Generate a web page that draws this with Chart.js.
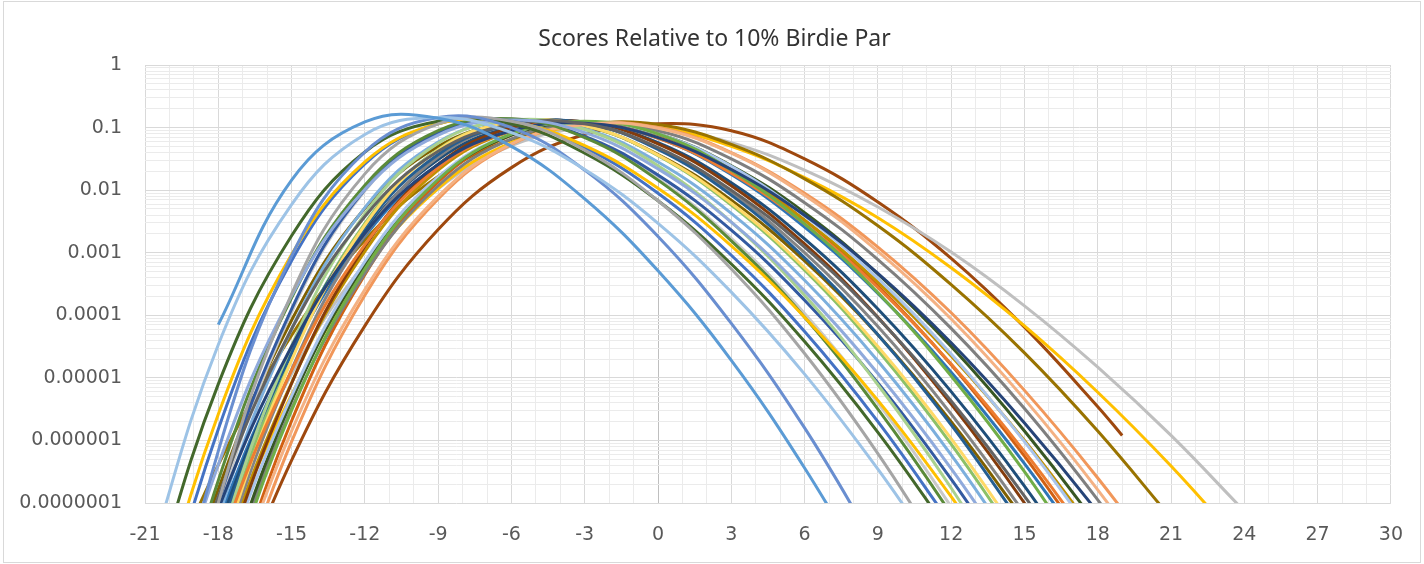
<!DOCTYPE html>
<html>
<head>
<meta charset="utf-8">
<script src="https://cdn.jsdelivr.net/npm/chart.js@4.4.1/dist/chart.umd.min.js"></script>
<style>
  html, body { margin: 0; padding: 0; background: #ffffff; }
  #wrap { position: relative; width: 1424px; height: 564px; }
  canvas { display: block; }
</style>
</head>
<body>
<div id="wrap"><canvas id="chart" width="1424" height="564"></canvas></div>
<script>
// Score (relative to 10% birdie par) at which each curve is sampled.
const scoreGrid = [-21, -18, -15, -12, -9, -6, -3, 0, 3, 6, 9, 12, 15, 18, 21, 24];

// log10 of the probability of each score, one array per player, aligned with scoreGrid.
const p01 = [null, -4.15, -1.84, -0.91, -0.85, -1.30, -2.14, -3.29, -4.72, -6.44, -8.40, null, null, null, null, null];
const p02 = [-8.11, -4.47, -2.23, -1.11, -0.84, -1.08, -1.67, -2.53, -3.63, -4.94, -6.46, -8.15, null, null, null, null];
const p03 = [-11.0, -6.17, -3.05, -1.39, -0.84, -1.00, -1.68, -2.74, -4.13, -5.80, -7.75, null, null, null, null, null];
const p04 = [-11.9, -7.00, -3.66, -1.74, -0.94, -0.90, -1.36, -2.17, -3.26, -4.61, -6.21, -8.03, null, null, null, null];
const p05 = [-8.72, -5.10, -2.73, -1.39, -0.90, -0.94, -1.41, -2.17, -3.18, -4.42, -5.87, -7.51, null, null, null, null];
const p06 = [-9.37, -5.58, -3.03, -1.55, -0.94, -0.91, -1.29, -1.97, -2.89, -4.03, -5.36, -6.90, -8.60, null, null, null];
const p07 = [-9.82, -5.82, -3.13, -1.58, -0.94, -0.90, -1.32, -2.05, -3.04, -4.26, -5.70, -7.34, null, null, null, null];
const p08 = [-10.2, -6.39, -3.69, -1.99, -1.12, -0.88, -1.08, -1.66, -2.51, -3.61, -4.93, -6.45, -8.16, null, null, null];
const p09 = [-10.84, -6.64, -3.72, -1.92, -1.05, -0.86, -1.16, -1.84, -2.81, -4.03, -5.50, -7.18, -9.07, null, null, null];
const p10 = [-10.55, -6.90, -4.22, -2.42, -1.38, -0.95, -0.94, -1.32, -2.00, -2.91, -4.04, -5.37, -6.89, -8.59, null, null];
const p11 = [-10.56, -7.10, -4.50, -2.69, -1.59, -1.05, -0.93, -1.16, -1.67, -2.40, -3.33, -4.44, -5.72, -7.15, -8.74, null];
const p12 = [null, -8.99, -5.85, -3.59, -2.10, -1.26, -0.95, -1.01, -1.41, -2.08, -2.98, -4.06, -5.34, -6.79, -8.41, null];
const p13 = [null, -8.73, -5.52, -3.26, -1.83, -1.10, -0.90, -1.10, -1.68, -2.54, -3.64, -4.97, -6.50, -8.23, null, null];
const p14 = [-11.6, -7.75, -4.88, -2.87, -1.64, -1.05, -0.92, -1.17, -1.73, -2.54, -3.56, -4.78, -6.18, -7.76, null, null];
const p15 = [-12.3, -7.75, -4.49, -2.38, -1.25, -0.88, -1.03, -1.61, -2.51, -3.68, -5.11, -6.76, -8.64, null, null, null];
const p16 = [-11.45, -7.24, -4.22, -2.28, -1.23, -0.89, -1.02, -1.55, -2.37, -3.44, -4.73, -6.23, -7.93, null, null, null];
const p17 = [-12.5, -7.99, -4.72, -2.56, -1.36, -0.91, -0.97, -1.44, -2.21, -3.24, -4.50, -5.97, -7.64, null, null, null];
const p18 = [-11.6, -7.57, -4.59, -2.59, -1.43, -0.95, -0.93, -1.35, -2.08, -3.08, -4.31, -5.75, -7.40, null, null, null];
const p19 = [-12.5, -8.08, -4.87, -2.72, -1.47, -0.95, -0.93, -1.33, -2.04, -3.00, -4.18, -5.58, -7.17, -8.94, null, null];
const p20 = [-12.6, -8.30, -5.09, -2.90, -1.59, -1.00, -0.91, -1.26, -1.93, -2.86, -4.03, -5.42, -7.00, -8.77, null, null];
const p21 = [-11.26, -7.43, -4.60, -2.66, -1.51, -0.99, -0.91, -1.24, -1.88, -2.78, -3.90, -5.22, -6.73, -8.43, null, null];
const p22 = [-10.9, -7.30, -4.61, -2.74, -1.59, -1.03, -0.91, -1.17, -1.75, -2.59, -3.65, -4.91, -6.37, -8.00, null, null];
const p23 = [-12.3, -8.33, -5.29, -3.14, -1.79, -1.10, -0.91, -1.10, -1.62, -2.41, -3.41, -4.62, -6.02, -7.60, null, null];
const p24 = [null, -8.45, -5.37, -3.19, -1.82, -1.12, -0.92, -1.10, -1.61, -2.36, -3.34, -4.50, -5.85, -7.37, -9.06, null];
const p25 = [null, -8.53, -5.49, -3.33, -1.93, -1.18, -0.94, -1.05, -1.50, -2.20, -3.11, -4.21, -5.49, -6.95, -8.56, null];
const p26 = [null, -9.26, -6.02, -3.68, -2.14, -1.27, -0.95, -1.00, -1.40, -2.05, -2.91, -3.96, -5.20, -6.60, -8.15, null];
const p27 = [-12.2, -8.12, -5.08, -2.98, -1.68, -1.06, -0.92, -1.16, -1.70, -2.48, -3.47, -4.65, -6.00, -7.53, null, null];
const p28 = [-11.46, -7.00, -3.90, -1.99, -1.08, -0.87, -1.14, -1.76, -2.64, -3.76, -5.08, -6.62, -8.34, null, null, null];
const p29 = [-11.7, -7.13, -3.95, -2.01, -1.07, -0.86, -1.15, -1.82, -2.77, -3.97, -5.40, -7.06, -8.92, null, null, null];
const p30 = [null, -9.00, -5.69, -3.35, -1.87, -1.12, -0.91, -1.11, -1.66, -2.48, -3.53, -4.79, -6.25, -7.90, null, null];
const p31 = [-12.3, -7.85, -4.64, -2.53, -1.35, -0.91, -0.97, -1.45, -2.24, -3.28, -4.56, -6.06, -7.76, null, null, null];
const p32 = [-10.51, -6.78, -4.08, -2.29, -1.30, -0.93, -0.98, -1.43, -2.16, -3.13, -4.31, -5.70, -7.27, null, null, null];
const p33 = [-9.07, -6.39, -4.32, -2.80, -1.78, -1.19, -0.95, -0.95, -1.27, -1.82, -2.57, -3.51, -4.60, -5.85, -7.24, null];
const p34 = [-11.6, -8.00, -5.27, -3.28, -1.97, -1.24, -0.97, -1.00, -1.30, -1.80, -2.44, -3.24, -4.17, -5.23, -6.41, -7.71];
const p35 = [-10.5, -7.36, -4.94, -3.17, -1.98, -1.29, -1.00, -1.00, -1.24, -1.68, -2.27, -2.99, -3.85, -4.83, -5.92, -7.13];
const p36 = [null, -9.14, -6.32, -4.17, -2.63, -1.64, -1.11, -0.94, -1.05, -1.50, -2.19, -3.09, -4.19, -5.46, null, null];
// the last player's curve stops at +19
const p36EndScore = 19;
const p36EndLog = -5.92;

const playerLogs = [p01, p02, p03, p04, p05, p06, p07, p08, p09, p10, p11, p12,
                    p13, p14, p15, p16, p17, p18, p19, p20, p21, p22, p23, p24,
                    p25, p26, p27, p28, p29, p30, p31, p32, p33, p34, p35, p36];

const playerColors = [
  '#5B9BD5', '#9DC3E6', '#698ED0', '#A5A5A5', '#43682B', '#FFC000',
  '#4472C4', '#8FAADC', '#5A8A39', '#636363', '#264478', '#F4B183',
  '#70AD47', '#ED7D31', '#A9D18E', '#7CAFDD', '#FFD966', '#255E91',
  '#848484', '#843C0C', '#1F4E79', '#2E75B6', '#A9C4EB', '#385723',
  '#7F7F7F', '#F1975A', '#BF9000', '#335AA1', '#C9C9C9', '#D26012',
  '#8CC168', '#7F6000', '#997300', '#FFC000', '#BFBFBF', '#9E480E'
];

// Axis ranges and tick layout.
const xMin = -21, xMax = 30, xLabelStep = 3;
const yMinExp = -7, yMaxExp = 0;
const yMinorMantissas = [1, 2, 3, 4, 5, 6, 7, 8, 9];

function toPoints(logs) {
  const pts = [];
  scoreGrid.forEach((x, k) => {
    if (logs[k] !== null) pts.push({ x: x, y: Math.pow(10, logs[k]) });
  });
  return pts;
}

const datasets = playerLogs.map((logs, i) => {
  const pts = toPoints(logs);
  if (logs === p36) pts.push({ x: p36EndScore, y: Math.pow(10, p36EndLog) });
  return {
    label: 'Player ' + (i + 1),
    data: pts,
    borderColor: playerColors[i],
    backgroundColor: playerColors[i],
    borderWidth: 3,
    pointRadius: 0,
    tension: 0.4,
    fill: false
  };
});

// White background, a thin outer frame, and the title centred on the framed area.
const frame = {
  id: 'frame',
  afterLayout(chart) {
    if (chart.titleBlock) chart.titleBlock.left = 34;
  },
  beforeDraw(chart) {
    const c = chart.ctx;
    c.save();
    c.fillStyle = '#ffffff';
    c.fillRect(0, 0, chart.width, chart.height);
    c.strokeStyle = '#d9d9d9';
    c.lineWidth = 1;
    c.strokeRect(3.5, 1.5, 1417, 561);
    c.restore();
  }
};

const labelFont = { family: '"DejaVu Sans", "Noto Sans", sans-serif', size: 19 };

new Chart(document.getElementById('chart'), {
  type: 'line',
  data: { datasets: datasets },
  plugins: [frame],
  options: {
    responsive: false,
    animation: false,
    events: [],
    layout: { padding: { left: 0, right: 29, top: 0, bottom: 0 } },
    elements: { line: { capBezierPoints: false } },
    plugins: {
      legend: { display: false },
      tooltip: { enabled: false },
      title: {
        display: true,
        text: 'Scores Relative to 10% Birdie Par',
        color: '#333333',
        font: { family: '"Noto Sans", "Open Sans", sans-serif', size: 23, weight: 'normal' },
        padding: { top: 26, bottom: 11.4 }
      }
    },
    scales: {
      x: {
        type: 'linear',
        min: xMin,
        max: xMax,
        afterBuildTicks(scale) {
          const t = [];
          for (let v = xMin; v <= xMax; v++) t.push({ value: v });
          scale.ticks = t;
        },
        afterFit(scale) { scale.height = 61; },
        ticks: {
          autoSkip: false,
          maxRotation: 0,
          padding: 21,
          color: '#595959',
          font: labelFont,
          callback: (v) => (v % xLabelStep === 0 ? String(v) : '')
        },
        grid: {
          drawTicks: false,
          lineWidth: 1,
          color: (ctx) => {
            const v = ctx.tick ? ctx.tick.value : 0;
            if (v === 0) return '#bfbfbf';
            return v % xLabelStep === 0 ? '#d9d9d9' : '#ebebeb';
          }
        },
        border: { display: false }
      },
      y: {
        type: 'logarithmic',
        min: Math.pow(10, yMinExp),
        max: Math.pow(10, yMaxExp),
        afterBuildTicks(scale) {
          const t = [];
          for (let e = yMinExp; e < yMaxExp; e++) {
            yMinorMantissas.forEach((m) => {
              t.push({ value: m * Math.pow(10, e), major: m === 1, exp: e });
            });
          }
          t.push({ value: Math.pow(10, yMaxExp), major: true, exp: yMaxExp });
          scale.ticks = t;
        },
        afterFit(scale) { scale.width = 145; },
        ticks: {
          autoSkip: false,
          padding: 23,
          color: '#595959',
          font: labelFont,
          callback: function (v, i, ticks) {
            const t = ticks[i];
            if (!t.major) return '';
            return t.exp < 0 ? Math.pow(10, t.exp).toFixed(-t.exp) : String(Math.pow(10, t.exp));
          }
        },
        grid: {
          drawTicks: false,
          lineWidth: 1,
          color: (ctx) => (ctx.tick && ctx.tick.major ? '#d9d9d9' : '#ebebeb')
        },
        border: { display: false }
      }
    }
  }
});
</script>
</body>
</html>
